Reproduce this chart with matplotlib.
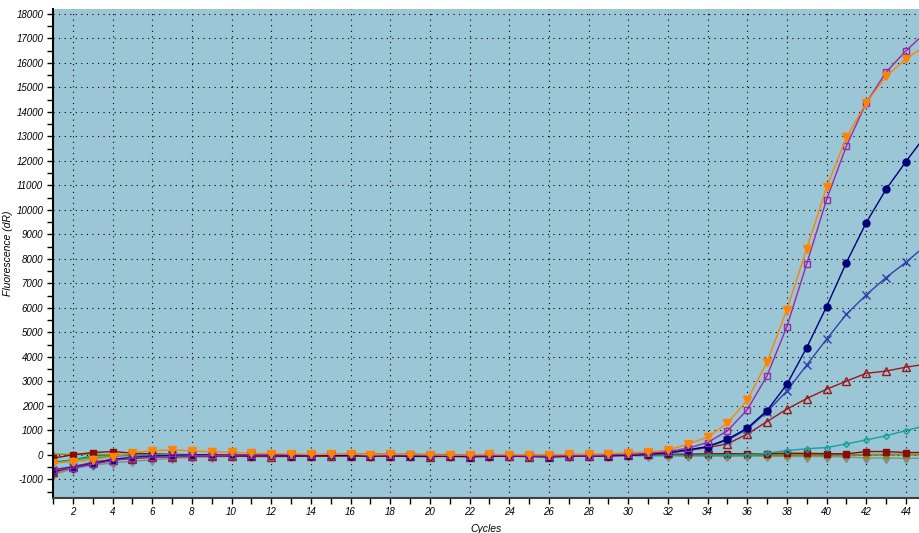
import matplotlib
matplotlib.use("Agg")
import matplotlib.pyplot as plt
from matplotlib.ticker import MultipleLocator

plt.rcParams["font.family"] = ["Liberation Sans", "DejaVu Sans"]

cycles = list(range(1, 46))

# Amplifying wells
orange_tri = [-330, -280, -200, -70, 90, 170, 200, 170, 120, 110,
              60, 50, 40, 20, 20, 30, 10, 20, 10, 0,
              -10, 0, 20, 10, 0, 0, 20, 30, 40, 95,
              110, 200, 435, 722, 1300, 2230, 3790, 5930, 8420, 10920,
              12960, 14370, 15450, 16170, 16700]
purple_sq = [-620, -540, -380, -240, -130, -90, -60, -40, -20, -10,
             0, 0, 10, 0, 20, 20, -20, 0, 20, 10,
             10, -40, -20, -30, -40, -50, -30, -40, 0, 20,
             60, 136, 272, 503, 980, 1840, 3230, 5240, 7800, 10420,
             12610, 14370, 15620, 16490, 17250]
navy_dot = [-650, -520, -360, -200, -120, -60, -30, -10, 0, -20,
            -30, -20, -40, -30, -20, -30, -40, -30, -50, -50,
            -40, -70, -60, -50, -60, -80, -60, -50, -30, -20,
            30, 90, 204, 340, 640, 1090, 1810, 2880, 4380, 6050,
            7850, 9480, 10840, 11970, 13050]
blue_x = [-600, -480, -330, -180, -90, -40, -20, 0, 10, 0,
          -10, 0, -20, -10, 0, -10, -20, -10, -30, -20,
          -20, -40, -30, -30, -40, -50, -40, -30, -10, 0,
          20, 80, 190, 330, 600, 1040, 1760, 2610, 3670, 4720,
          5740, 6530, 7240, 7860, 8550]
red_tri = [-700, -500, -300, -200, -150, -100, -80, -60, -50, -60,
           -60, -70, -60, -50, -60, -40, -60, -50, -60, -70,
           -60, -80, -60, -60, -70, -80, -60, -50, -30, -10,
           30, 80, 177, 300, 449, 844, 1360, 1870, 2300, 2680,
           3010, 3330, 3420, 3580, 3700]
teal_dia = [-340, -200, -120, -60, -20, 0, 10, 0, 10, 0,
            0, -10, 0, 10, 0, 0, -10, 0, 0, -10,
            0, -10, 0, 0, -10, -10, 0, 0, -10, 0,
            0, -10, -20, -10, -10, 0, 67, 177, 250, 300,
            445, 612, 780, 990, 1200]

# Flat (negative) wells
maroon_sq = [-135, 0, 95, 136, 70, 40, 20, 10, 0, -10,
             -20, -30, -20, -30, -20, -20, -30, -20, -30, -30,
             -40, -50, -40, -40, -50, -50, -40, -40, -30, -20,
             0, 20, 30, 40, 50, 40, 50, 68, 60, 50,
             40, 136, 136, 95, 100]
olive_tri = [30, 20, 20, 10, 10, 10, 0, 0, 10, 0,
             0, 10, 0, 0, 10, 20, 40, 30, 20, 10,
             10, 0, 10, 0, 0, 0, 10, 0, 0, 10,
             10, 0, 0, 0, 0, 0, 10, 0, 0, 0,
             10, 10, 10, 10, 10]
gray_dia = [-820, -560, -420, -330, -260, -200, -140, -100, -80, -60,
            -50, -50, -40, -40, -30, -30, -40, -40, -30, -40,
            -30, -50, -40, -40, -50, -50, -40, -50, -40, -40,
            -50, -40, -50, -50, -60, -50, -60, -60, -70, -70,
            -80, -130, -130, -140, -140]
olive_low = [-760, -520, -330, -200, -120, -80, -60, -40, -30, -20,
             -10, 0, 0, 0, -10, 0, 0, 0, -10, 0,
             0, 0, -10, 0, 0, 0, 0, 0, 0, 0,
             0, 0, 0, 0, 0, 10, 0, 10, 0, 10,
             10, 10, 20, 20, 20]
green_plus = [-300, -200, -40, 0, 20, 10, 10, 0, 10, 0,
              0, 0, 10, 0, 0, 10, 0, 0, 10, 0,
              0, 0, 10, 0, 0, 10, 0, 0, 0, 0,
              -10, -20, -20, -20, -20, -10, -10, 0, 0, 0,
              0, 0, 10, 10, 10]

series = [
    (olive_low, "#8c8c10", "", "full", 0),
    (gray_dia, "#8a8a8a", "d", "full", 5.5),
    (green_plus, "#10a010", "+", "full", 4.5),
    (olive_tri, "#8a8a1a", "^", "full", 4.5),
    (maroon_sq, "#8b0a0a", "s", "full", 5),
    (teal_dia, "#16a0a0", "D", "none", 3),
    (red_tri, "#9a1a1a", "^", "none", 6),
    (blue_x, "#3040b0", "x", "full", 6),
    (navy_dot, "#00007a", "o", "full", 5),
    (purple_sq, "#9a28a8", "s", "none", 5),
    (orange_tri, "#ff8400", "v", "full", 6),
]

fig = plt.figure(figsize=(9.19, 5.33), dpi=100)
ax = fig.add_axes([53 / 919, 35.5 / 533, 1 - 53 / 919, (497.5 - 9) / 533])
ax.set_facecolor("#9bc6d5")

for values, color, marker, fill, size in series:
    ax.plot(cycles, values, color=color, linewidth=1.0, marker=marker,
            markersize=size, markeredgewidth=1.0,
            markerfacecolor=color if fill == "full" else "none")

ax.set_xlim(1, 44.66)
ax.set_ylim(-1740, 18200)

ax.xaxis.set_major_locator(MultipleLocator(2))
ax.xaxis.set_minor_locator(MultipleLocator(1))
ax.yaxis.set_major_locator(MultipleLocator(1000))
ax.yaxis.set_minor_locator(MultipleLocator(500))

ax.grid(True, which="major", color="black", linestyle=(0, (1, 4)), linewidth=0.8)

for side in ["top", "right"]:
    ax.spines[side].set_visible(False)
ax.spines["left"].set_linewidth(1.5)
ax.spines["bottom"].set_color("#404040")
ax.spines["bottom"].set_linewidth(1.5)

ax.tick_params(axis="both", which="major", length=4, width=1, labelsize=7, pad=3)
ax.tick_params(axis="both", which="minor", length=4, width=1)
ax.set_xticks([c for c in range(2, 45, 2)])
ax.set_xticklabels([str(c) for c in range(2, 45, 2)], fontstyle="italic", fontsize=7)
ax.set_yticks(list(range(-1000, 18001, 1000)))
ax.set_yticklabels([str(v) for v in range(-1000, 18001, 1000)], fontstyle="italic", fontsize=7)

ax.set_xlabel("Cycles", fontstyle="italic", fontsize=7.5, labelpad=5)
ax.set_ylabel("Fluorescence (dR)", fontstyle="italic", fontsize=7.5, labelpad=2)
ax.yaxis.set_label_coords(-0.046, 0.5)

fig.savefig("out.png", dpi=100)
